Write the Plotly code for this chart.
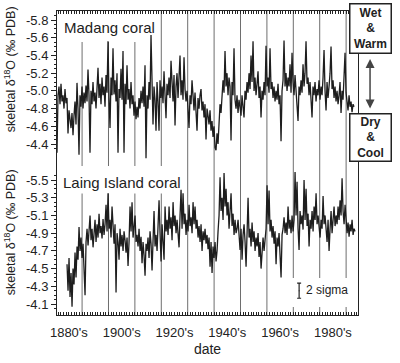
import numpy as np
import plotly.graph_objects as go

# ---------------- data ----------------
step = 1 / 2.64            # sampling interval in years
madang_start = 1875.5
laing_start = 1879.3

madang_d18O = [
    -4.30, -4.95, -5.05, -4.85, -5.08, -4.88, -4.95, -4.80, -5.02, -4.86,
    -4.92, -4.52, -4.78, -4.70, -4.58, -4.75, -4.50, -4.72, -4.88, -4.62,
    -5.09, -4.80, -4.28, -4.95, -4.82, -5.05, -4.80, -4.98, -4.86, -5.06,
    -4.88, -5.24, -4.95, -4.30, -5.00, -4.85, -5.10, -4.88, -4.98, -4.80,
    -5.05, -5.26, -4.92, -5.08, -4.85, -5.15, -4.95, -5.05, -4.82, -5.18,
    -4.98, -5.56, -4.92, -4.58, -5.15, -4.95, -5.48, -4.96, -5.12, -4.88,
    -5.20, -4.30, -5.02, -4.92, -5.25, -4.90, -5.45, -4.30, -5.08, -4.85,
    -5.29, -4.90, -5.02, -4.80, -5.10, -4.85, -4.95, -4.72, -4.88, -4.68,
    -4.82, -4.70, -4.92, -4.80, -5.00, -4.86, -5.05, -4.82, -5.29, -4.24,
    -4.95, -4.80, -5.10, -4.90, -5.63, -4.85, -4.62, -5.05, -4.90, -4.55,
    -5.10, -4.88, -4.55, -5.12, -4.92, -5.05, -4.86, -5.22, -4.90, -4.69,
    -5.08, -4.95, -5.15, -4.92, -5.34, -5.00, -4.88, -5.18, -4.61, -5.05,
    -5.20, -4.92, -5.10, -5.40, -4.95, -5.12, -4.90, -5.38, -5.02, -4.88,
    -5.00, -4.80, -4.58, -4.95, -4.85, -5.12, -4.88, -4.78, -4.98, -4.82,
    -4.55, -4.92, -4.80, -4.95, -5.02, -4.78, -4.88, -4.70, -4.85, -4.45,
    -4.80, -4.72, -4.62, -4.78, -4.55, -4.66, -4.48, -4.60, -4.36, -4.33,
    -4.52, -4.40, -4.70, -4.85, -4.75, -5.00, -5.12, -4.98, -5.45, -5.05,
    -5.20, -4.95, -5.15, -5.05, -4.44, -5.10, -4.95, -5.48, -4.90, -4.80,
    -4.95, -4.75, -4.90, -4.82, -4.72, -4.95, -4.85, -4.70, -5.00, -4.90,
    -5.10, -4.98, -5.20, -5.02, -5.40, -5.10, -5.56, -5.00, -5.15, -4.95,
    -5.08, -5.22, -4.92, -5.05, -4.70, -5.00, -4.90, -5.10, -4.95, -5.51,
    -5.05, -5.15, -4.98, -5.48, -5.02, -5.10, -4.92, -5.05, -4.88, -5.00,
    -4.90, -5.08, -4.85, -4.95, -4.43, -5.00, -5.12, -5.57, -5.05, -5.20,
    -5.00, -5.15, -5.05, -5.30, -4.98, -5.43, -5.10, -4.95, -5.18, -5.02,
    -4.92, -4.66, -5.05, -4.95, -5.12, -4.98, -5.30, -5.05, -5.20, -5.56,
    -5.08, -5.15, -4.95, -5.10, -4.90, -4.70, -5.05, -4.95, -5.10, -4.88,
    -5.02, -4.95, -5.12, -4.90, -5.05, -4.95, -5.15, -5.46, -5.00, -4.78,
    -5.10, -4.92, -5.05, -5.20, -5.50, -5.02, -5.12, -4.92, -5.05, -4.88,
    -5.00, -4.85, -4.95, -5.10, -4.75, -5.00, -4.90, -5.15, -5.43, -4.98,
    -4.90, -4.78, -4.95, -4.82, -4.88, -4.76, -4.85, -4.82,
]

laing_d18O = [
    -4.55, -4.25, -4.62, -4.18, -4.45, -4.07, -4.50, -4.32, -4.68, -4.40,
    -4.75, -4.60, -4.97, -4.70, -4.85, -4.62, -4.78, -4.50, -4.20, -4.80,
    -4.95, -4.76, -4.90, -5.10, -4.82, -4.95, -4.74, -4.92, -5.05, -4.80,
    -5.00, -4.85, -5.12, -4.90, -4.98, -4.84, -5.06, -4.88, -5.00, -5.22,
    -4.92, -5.35, -4.95, -5.05, -4.85, -5.20, -4.92, -4.78, -5.00, -4.23,
    -4.90, -4.80, -4.60, -4.95, -4.75, -4.88, -4.70, -4.92, -4.82, -4.68,
    -4.85, -4.53, -4.80, -5.20, -4.92, -5.25, -4.85, -4.95, -5.10, -4.80,
    -4.88, -4.75, -4.95, -4.70, -4.86, -4.56, -4.80, -4.65, -4.42, -4.78,
    -4.70, -4.85, -4.62, -4.92, -4.78, -4.48, -4.80, -5.15, -4.75, -4.88,
    -4.70, -4.95, -5.27, -4.90, -4.58, -5.00, -4.85, -4.60, -5.20, -4.92,
    -5.05, -4.88, -5.20, -4.95, -5.08, -4.82, -5.25, -4.98, -5.10, -4.90,
    -5.05, -4.85, -4.74, -5.10, -5.39, -4.95, -5.35, -5.00, -5.12, -4.88,
    -5.05, -4.92, -5.22, -4.98, -5.08, -4.90, -5.25, -5.00, -5.20, -4.95,
    -5.05, -4.85, -4.98, -4.80, -5.00, -4.70, -4.92, -4.82, -4.95, -4.78,
    -4.88, -4.72, -4.85, -4.52, -4.80, -4.45, -4.75, -4.62, -4.80, -4.58,
    -4.70, -4.92, -5.10, -5.53, -5.15, -5.30, -5.05, -5.58, -5.20, -5.40,
    -5.10, -5.25, -4.95, -5.15, -5.35, -4.98, -5.12, -4.88, -5.05, -4.90,
    -4.95, -5.05, -4.85, -4.71, -4.95, -4.60, -4.88, -5.00, -4.80, -4.52,
    -4.90, -5.30, -4.85, -4.95, -4.75, -5.02, -4.80, -4.92, -4.70, -4.85,
    -4.75, -4.90, -4.63, -4.80, -4.50, -4.72, -4.85, -4.70, -4.88, -4.95,
    -5.44, -5.00, -5.38, -4.92, -5.05, -4.85, -4.98, -4.78, -4.92, -4.55,
    -4.85, -4.75, -4.90, -4.70, -4.40, -4.88, -4.95, -5.08, -4.90, -5.02,
    -4.88, -5.20, -4.95, -5.05, -4.90, -5.10, -4.92, -5.05, -5.59, -5.10,
    -5.48, -4.95, -4.71, -5.15, -5.00, -5.10, -4.94, -5.50, -5.05, -5.40,
    -4.98, -5.12, -4.75, -5.05, -4.95, -5.15, -4.92, -5.20, -5.05, -5.35,
    -5.00, -5.10, -4.90, -4.85, -5.05, -4.95, -5.32, -5.00, -5.10, -4.94,
    -4.80, -5.05, -4.70, -4.95, -5.15, -4.90, -5.05, -5.20, -4.98, -5.10,
    -5.00, -5.20, -5.05, -5.27, -5.10, -5.52, -5.15, -5.00, -5.22, -5.05,
    -4.90, -5.02, -4.86, -5.00, -4.92, -5.05, -4.88, -4.95, -4.92,
]

madang_years = madang_start + step * np.arange(len(madang_d18O))
laing_years = laing_start + step * np.arange(len(laing_d18O))

x_tick_years = [1880, 1900, 1920, 1940, 1960, 1980]
x_tick_labels = ["1880's", "1900's", "1920's", "1940's", "1960's", "1980's"]
decade_lines = [1885, 1895, 1905, 1915, 1925, 1935, 1945, 1955, 1965, 1975, 1985]

madang_ticks = [-5.8, -5.6, -5.4, -5.2, -5.0, -4.8, -4.6, -4.4]
laing_ticks = [-5.5, -5.3, -5.1, -4.9, -4.7, -4.5, -4.3, -4.1]
two_sigma = 0.17
sigma_bar_year = 1967.2
sigma_bar_center = -4.25

# ---------------- figure ----------------
FONT = "Liberation Sans, Arial, sans-serif"
INK = "#222222"

fig = go.Figure()
fig.add_trace(go.Scatter(x=madang_years, y=madang_d18O, mode="lines",
                         line=dict(color="#1e1e1e", width=1.3), yaxis="y",
                         hoverinfo="skip", showlegend=False))
fig.add_trace(go.Scatter(x=laing_years, y=laing_d18O, mode="lines",
                         line=dict(color="#1e1e1e", width=1.3), yaxis="y2",
                         hoverinfo="skip", showlegend=False))
fig.add_trace(go.Scatter(x=[sigma_bar_year], y=[sigma_bar_center], mode="markers",
                         marker=dict(size=1, color=INK), yaxis="y2",
                         error_y=dict(type="data", array=[two_sigma / 2], width=2,
                                      thickness=1.2, color=INK),
                         hoverinfo="skip", showlegend=False))

shapes = []
for yr in decade_lines:
    shapes.append(dict(type="line", xref="x", yref="paper", x0=yr, x1=yr, y0=0, y1=1,
                       line=dict(color="#6e6e6e", width=1), layer="below"))
# white panels behind the labels (hide the decade lines there)
for (x0, x1, y0, y1) in [(0, 0.335, 0.898, 1.0), (0, 0.425, 0.40, 0.49),
                         (0.765, 0.975, 0.026, 0.122)]:
    shapes.append(dict(type="rect", xref="paper", yref="paper", x0=x0, x1=x1,
                       y0=y0, y1=y1, fillcolor="white", line=dict(width=0),
                       layer="below"))

ytitle = "skeletal δ<sup>18</sup>O (‰ PDB)"
annotations = [
    dict(text="Madang coral", xref="paper", yref="paper", x=0.018, y=0.947,
         xanchor="left", yanchor="middle", showarrow=False,
         font=dict(family=FONT, size=15, color=INK)),
    dict(text="Laing Island coral", xref="paper", yref="paper", x=0.012, y=0.4375,
         xanchor="left", yanchor="middle", showarrow=False,
         font=dict(family=FONT, size=15, color=INK)),
    dict(text="2 sigma", xref="paper", yref="paper", x=0.822, y=0.082,
         xanchor="left", yanchor="middle", showarrow=False,
         font=dict(family=FONT, size=12, color=INK)),
    dict(text=ytitle, xref="paper", yref="paper", x=-0.158, y=0.81,
         textangle=-90, showarrow=False, xanchor="center", yanchor="middle",
         font=dict(family=FONT, size=12.5, color=INK)),
    dict(text=ytitle, xref="paper", yref="paper", x=-0.158, y=0.274,
         textangle=-90, showarrow=False, xanchor="center", yanchor="middle",
         font=dict(family=FONT, size=12.5, color=INK)),
    dict(text="<b>Wet<br>&<br>Warm</b>", xref="paper", yref="paper", x=0.970, y=1.026,
         showarrow=False, xanchor="left", yanchor="top", width=40, height=48,
         bgcolor="white", bordercolor=INK, borderwidth=1.5, borderpad=0,
         font=dict(family=FONT, size=12, color=INK)),
    dict(text="<b>Dry<br>&<br>Cool</b>", xref="paper", yref="paper", x=0.970, y=0.664,
         showarrow=False, xanchor="left", yanchor="top", width=40, height=46,
         bgcolor="white", bordercolor=INK, borderwidth=1.5, borderpad=0,
         font=dict(family=FONT, size=12, color=INK)),
    dict(text="", xref="paper", yref="paper", x=1.04, y=0.842, ax=0, ay=51,
         showarrow=True, arrowhead=2, arrowside="end+start", arrowsize=1.2,
         arrowwidth=1.5, arrowcolor="#444"),
]

axis_common = dict(showgrid=False, zeroline=False, color=INK, automargin=False,
                   tickfont=dict(family=FONT, size=13, color=INK))

fig.update_layout(
    width=400, height=363,
    margin=dict(l=57, r=42, t=11, b=48, autoexpand=False),
    paper_bgcolor="white", plot_bgcolor="white",
    font=dict(family=FONT, color=INK),
    shapes=shapes, annotations=annotations,
    xaxis=dict(range=[1875.5, 1989.5], tickmode="array", tickvals=x_tick_years,
               ticktext=x_tick_labels, ticks="inside", ticklen=3, tickcolor=INK,
               showline=True, linecolor=INK, linewidth=1, mirror="ticks",
               ticklabelstandoff=5,
               minor=dict(dtick=1, tick0=1880, ticklen=3, ticks="inside",
                          tickcolor=INK, showgrid=False),
               title=dict(text="date", font=dict(family=FONT, size=14, color=INK),
                          standoff=5),
               **axis_common),
    yaxis=dict(range=[-2.469, -5.902], tickmode="array", tickvals=madang_ticks,
               ticktext=[f"{v:.1f}" for v in madang_ticks], ticks="outside",
               ticklen=5, tickcolor=INK, showline=True, linecolor=INK,
               linewidth=1, mirror=True,
               minor=dict(tickmode="array",
                          tickvals=list(np.round(np.arange(-5.85, -4.34, 0.05), 2)),
                          ticklen=2, ticks="outside", tickcolor=INK),
               **axis_common),
    yaxis2=dict(range=[-3.976, -7.408], overlaying="y", side="left", anchor="x",
                tickmode="array", tickvals=laing_ticks,
                ticktext=[f"{v:.1f}" for v in laing_ticks], ticks="outside",
                ticklen=5, tickcolor=INK, showline=False,
                minor=dict(tickmode="array",
                           tickvals=list(np.round(np.arange(-5.55, -4.04, 0.05), 2)),
                           ticklen=2, ticks="outside", tickcolor=INK),
                **axis_common),
)

fig.write_html("out.html", config={"displayModeBar": False},
               post_script="document.body.style.margin='0';document.body.style.padding='0';")
